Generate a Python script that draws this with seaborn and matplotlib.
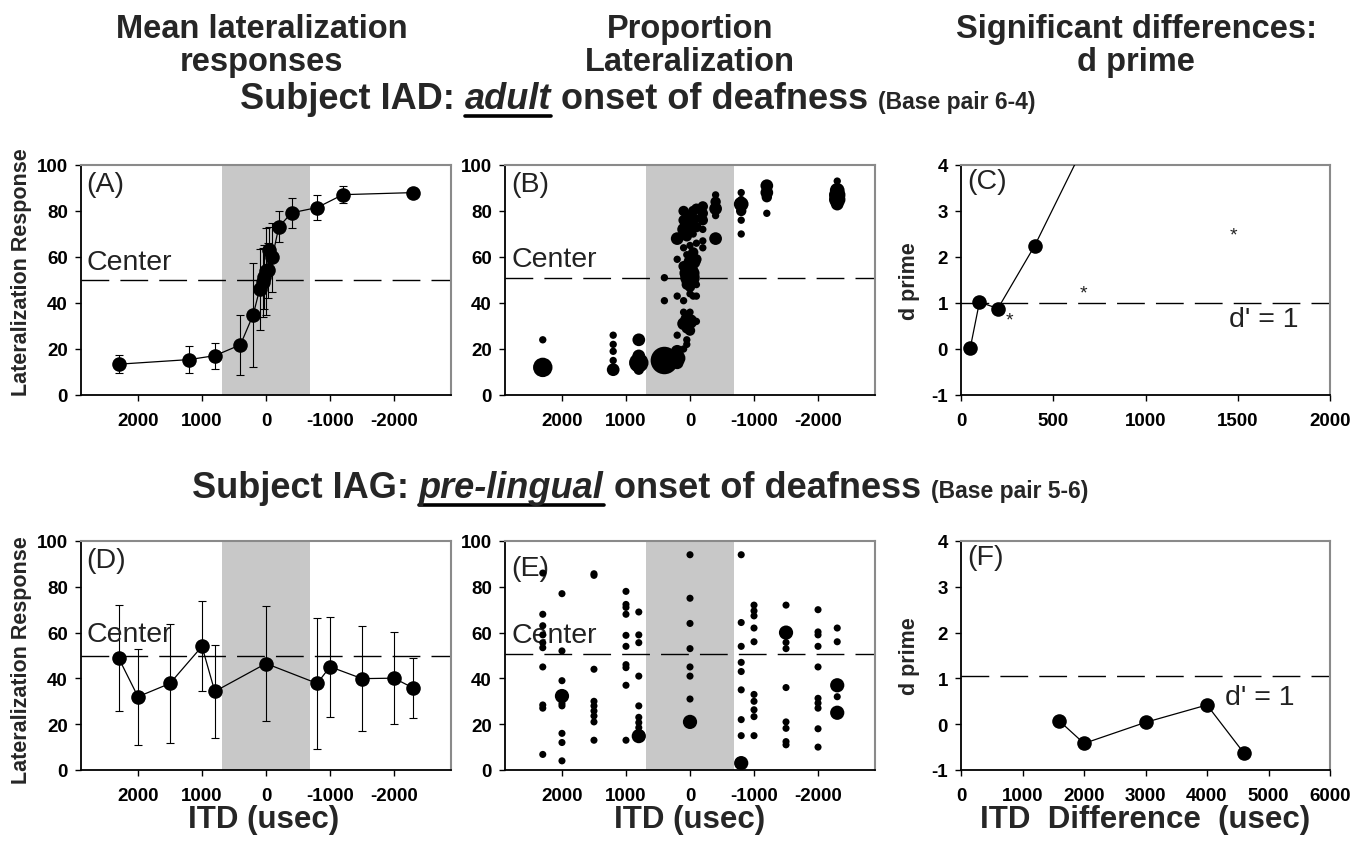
import numpy as np
import pandas as pd
import seaborn as sns
import matplotlib
matplotlib.use("Agg")
import matplotlib.pyplot as plt
from matplotlib.lines import Line2D

sns.set_theme(style="ticks")
plt.rcParams["font.family"] = ["Liberation Sans", "DejaVu Sans"]
plt.rcParams["axes.unicode_minus"] = False

# ---------------- data ----------------
# Panel A: mean lateralization, subject IAD
A_itd = [2300, 1200, 800, 400, 200, 100, 50, 25, 0, -25, -50, -100, -200, -400, -800, -1200, -2300]
A_mean = [13.4, 15.4, 17.1, 21.8, 34.9, 45.9, 49.1, 51.3, 53.8, 54.2, 62.9, 60.0, 73.1, 79.2, 81.5, 87.1, 88.0]
A_sd = [4.0, 5.8, 5.7, 13.2, 22.7, 17.5, 15.0, 14.0, 19.0, 12.0, 10.0, 15.0, 6.7, 6.4, 5.4, 3.6, 1.0]

# Panel B: proportion of responses (bubble size = count), subject IAD
B_itd = [2300, 2300,
         1200, 1200, 1200, 1200, 1200,
         800, 800, 800, 800,
         400, 400, 400, 400, 400,
         200, 200, 200, 200, 200, 200, 200,
         100, 100, 100, 100, 100, 100, 100, 100, 100,
         50, 50, 50, 50, 50, 50, 50, 50, 50, 50,
         0, 0, 0, 0, 0, 0, 0, 0, 0, 0, 0,
         -50, -50, -50, -50, -50, -50, -50, -50,
         -100, -100, -100, -100, -100, -100, -100, -100,
         -200, -200, -200, -200, -200, -200,
         -400, -400, -400, -400, -400,
         -800, -800, -800, -800, -800, -800,
         -1200, -1200, -1200, -1200,
         -2300, -2300, -2300, -2300, -2300]
B_resp = [24, 12,
          26, 22, 19, 15, 11,
          24, 17, 14, 11,
          51, 41, 15, 13, 18,
          68, 59, 43, 26, 16, 19, 14,
          80, 76, 72, 64, 56, 41, 36, 31, 20,
          78, 74, 69, 61, 53, 48, 33, 29, 24, 22,
          75, 71, 65, 58, 54, 51, 47, 44, 32, 28, 36,
          80, 76, 70, 62, 58, 53, 49, 43,
          81, 77, 73, 66, 59, 48, 43, 32,
          82, 79, 76, 72, 67, 64,
          87, 84, 81, 78, 68,
          88, 85, 83, 80, 76, 70,
          91, 88, 86, 79,
          93, 89, 87, 85, 83]
B_n = [1, 7,
       1, 1, 1, 1, 3,
       3, 3, 7, 2,
       1, 1, 14, 5, 3,
       3, 1, 1, 1, 5, 3, 3,
       2, 2, 3, 1, 2, 1, 1, 3, 1,
       2, 3, 2, 1, 4, 2, 3, 2, 1, 1,
       3, 2, 1, 3, 5, 7, 2, 1, 4, 2, 1,
       2, 2, 1, 2, 4, 3, 2, 1,
       2, 1, 2, 1, 2, 1, 1, 1,
       2, 2, 2, 1, 1, 1,
       1, 2, 3, 1, 3,
       1, 1, 4, 2, 1, 1,
       3, 3, 2, 1,
       1, 4, 5, 5, 3]

# Panel C: d prime, subject IAD
C_diff = [50, 100, 200, 400, 800]
C_dprime = [0.02, 1.02, 0.88, 2.25, 5.5]
C_star_x = [265, 663, 1476]
C_star_y = [0.63, 1.22, 2.47]

# Panel D: mean lateralization, subject IAG
D_itd = [2300, 2000, 1500, 1000, 800, 0, -800, -1000, -1500, -2000, -2300]
D_mean = [48.8, 32.0, 37.8, 54.0, 34.3, 46.5, 37.8, 45.1, 39.9, 40.1, 35.8]
D_sd = [23.1, 21.0, 26.1, 19.7, 20.2, 24.9, 28.6, 21.8, 22.9, 20.2, 13.3]

# Panel E: proportion of responses, subject IAG
E_itd = [2300, 2300, 2300, 2300, 2300, 2300, 2300, 2300, 2300, 2300,
         2000, 2000, 2000, 2000, 2000, 2000, 2000, 2000, 2000,
         1500, 1500, 1500, 1500, 1500, 1500, 1500, 1500, 1500,
         1000, 1000, 1000, 1000, 1000, 1000, 1000, 1000, 1000, 1000,
         800, 800, 800, 800, 800, 800, 800, 800, 800,
         0, 0, 0, 0, 0, 0, 0, 0,
         -800, -800, -800, -800, -800, -800, -800, -800, -800,
         -1000, -1000, -1000, -1000, -1000, -1000, -1000, -1000, -1000, -1000,
         -1500, -1500, -1500, -1500, -1500, -1500, -1500, -1500, -1500,
         -2000, -2000, -2000, -2000, -2000, -2000, -2000, -2000, -2000, -2000,
         -2300, -2300, -2300, -2300, -2300]
E_resp = [86, 68, 63, 59, 55.6, 53.4, 45, 28.4, 27, 6.8,
          77, 52, 39, 32.3, 29, 28, 16, 12, 4,
          85.7, 85, 44, 30, 28, 25.8, 23.6, 21, 13,
          78, 72.3, 71, 68, 58.8, 54, 46, 44.7, 37, 13,
          69, 59, 55.6, 41, 28, 23, 20.7, 18.5, 14.8,
          94, 75, 64, 53, 45, 41, 31, 21,
          94, 64.4, 54, 47, 43, 35, 22, 15, 3,
          72, 69.5, 67.3, 62, 56, 33, 30, 26.3, 23.3, 15,
          72, 60, 55.7, 53, 36, 21, 18.2, 12.4, 11,
          70, 60.3, 59, 54, 45, 31.3, 29.2, 27, 18, 10,
          62, 56, 37, 32, 25]
E_n = [1, 1, 1, 1, 1, 1, 1, 1, 1, 1,
       1, 1, 1, 4, 1, 1, 1, 1, 1,
       1, 1, 1, 1, 1, 1, 1, 1, 1,
       1, 1, 1, 1, 1, 1, 1, 1, 1, 1,
       1, 1, 1, 1, 1, 1, 1, 1, 4,
       1, 1, 1, 1, 1, 1, 1, 4,
       1, 1, 1, 1, 1, 1, 1, 1, 4,
       1, 1, 1, 1, 1, 1, 1, 1, 1, 1,
       1, 4, 1, 1, 1, 1, 1, 1, 1,
       1, 1, 1, 1, 1, 1, 1, 1, 1, 1,
       1, 1, 4, 1, 4]

# Panel F: d prime, subject IAG
F_diff = [1600, 2000, 3000, 4000, 4600]
F_dprime = [0.07, -0.42, 0.04, 0.42, -0.63]

itd_ticks = [2000, 1000, 0, -1000, -2000]
lat_ticks = [0, 20, 40, 60, 80, 100]
dp_ticks = [-1, 0, 1, 2, 3, 4]
C_ticks = [0, 500, 1000, 1500, 2000]
F_ticks = [0, 1000, 2000, 3000, 4000, 5000, 6000]

# ---------------- figure ----------------
W, H = 1362, 854
fig = plt.figure(figsize=(W / 100, H / 100), dpi=100)
fig.patch.set_facecolor("white")


def add_ax(x0, x1, y0, y1):
    return fig.add_axes([x0 / W, 1 - y1 / H, (x1 - x0) / W, (y1 - y0) / H])


axA = add_ax(81, 451, 166, 396)
axB = add_ax(505, 875, 166, 396)
axC = add_ax(961, 1330, 166, 396)
axD = add_ax(81, 451, 542, 771)
axE = add_ax(505, 875, 542, 771)
axF = add_ax(961, 1330, 542, 771)

TICK_FS = 13.5
LBL_FS = 20.5


def style(ax, xticks, yticks):
    ax.set_facecolor("white")
    ax.set_xticks(xticks)
    ax.set_yticks(yticks)
    for s in ["left", "bottom"]:
        ax.spines[s].set_color("black")
        ax.spines[s].set_linewidth(1.3)
    for s in ["top", "right"]:
        ax.spines[s].set_visible(True)
        ax.spines[s].set_color("#8a8a8a")
        ax.spines[s].set_linewidth(1.5)
    ax.tick_params(direction="out", length=4.5, width=1.0, labelsize=TICK_FS, pad=5, colors="black")
    ax.tick_params(axis="x", pad=8)
    for lab in ax.get_xticklabels() + ax.get_yticklabels():
        lab.set_fontweight("bold")
    ax.set_xlabel("")
    ax.set_ylabel("")
    ax.grid(False)


def mean_panel(ax, itd, mean, sd, center_y, label, center_text_y):
    ax.axvspan(680, -680, color="#c8c8c8", lw=0, zorder=0)
    ax.axhline(center_y, color="black", lw=1.0, dashes=(20, 8), zorder=1)
    ax.errorbar(itd, mean, yerr=sd, fmt="none", ecolor="black", elinewidth=0.8,
                capsize=3.2, capthick=0.8, zorder=2)
    sns.lineplot(x=itd, y=mean, ax=ax, sort=False, estimator=None, color="black", lw=0.9,
                 marker="o", markersize=10.5, markeredgewidth=0, markerfacecolor="black", zorder=3)
    ax.set_xlim(2890, -2890)
    ax.set_ylim(0, 100)
    style(ax, itd_ticks, lat_ticks)
    ax.text(0.014, center_text_y, "Center", transform=ax.get_yaxis_transform(),
            ha="left", va="baseline", fontsize=LBL_FS, color="#222222")
    ax.text(0.014, 0.975, label, transform=ax.transAxes, ha="left", va="top",
            fontsize=LBL_FS, color="#222222")


def bubble_panel(ax, itd, resp, n, center_y, label, center_text_y, sizes, norm, label_y=0.975):
    ax.axvspan(680, -680, color="#c8c8c8", lw=0, zorder=0)
    ax.axhline(center_y, color="black", lw=1.0, dashes=(20, 8), zorder=1)
    df = pd.DataFrame({"itd": itd, "resp": resp, "n": n})
    sns.scatterplot(data=df, x="itd", y="resp", size="n", sizes=sizes, size_norm=norm,
                    color="black", edgecolor="none", linewidth=0, legend=False, ax=ax, zorder=3)
    ax.set_xlim(2890, -2890)
    ax.set_ylim(0, 100)
    style(ax, itd_ticks, lat_ticks)
    ax.text(0.018, center_text_y, "Center", transform=ax.get_yaxis_transform(),
            ha="left", va="baseline", fontsize=LBL_FS, color="#222222", zorder=2)
    ax.text(0.016, label_y, label, transform=ax.transAxes, ha="left", va="top",
            fontsize=LBL_FS, color="#222222", zorder=2)


def dprime_panel(ax, xs, ys, ref_y, label, xlim, xticks, dtext_x, dtext_y):
    ax.axhline(ref_y, color="black", lw=1.0, dashes=(20, 8), zorder=1)
    sns.lineplot(x=xs, y=ys, ax=ax, sort=False, estimator=None, color="black", lw=0.9,
                 marker="o", markersize=10.5, markeredgewidth=0, markerfacecolor="black", zorder=3)
    ax.set_xlim(*xlim)
    ax.set_ylim(-1, 4)
    style(ax, xticks, dp_ticks)
    ax.text(dtext_x, dtext_y, "d' = 1", ha="left", va="baseline", fontsize=LBL_FS, color="#222222")
    ax.text(0.016, 0.985, label, transform=ax.transAxes, ha="left", va="top",
            fontsize=LBL_FS, color="#222222")


mean_panel(axA, A_itd, A_mean, A_sd, 49.8, "(A)", 55.0)
bubble_panel(axB, B_itd, B_resp, B_n, 50.8, "(B)", 56.3, (28, 420), (1, 15))
dprime_panel(axC, C_diff, C_dprime, 1.0, "(C)", (0, 2000), C_ticks, 1450, 0.49)
for sx, sy in zip(C_star_x, C_star_y):
    axC.text(sx, sy, "*", ha="center", va="center", fontsize=14, color="#222222")

mean_panel(axD, D_itd, D_mean, D_sd, 49.6, "(D)", 56.4)
bubble_panel(axE, E_itd, E_resp, E_n, 50.5, "(E)", 55.8, (26, 105), (1, 4), label_y=0.94)
dprime_panel(axF, F_diff, F_dprime, 1.05, "(F)", (0, 6000), F_ticks, 4300, 0.44)

# ---------------- text ----------------
TITLE_FS = 23.5
fig.text(262 / W, 1 - 46 / H, "Mean lateralization\nresponses", ha="center", va="center",
         fontsize=TITLE_FS, fontweight="bold", linespacing=1.1)
fig.text(690 / W, 1 - 46 / H, "Proportion\nLateralization", ha="center", va="center",
         fontsize=TITLE_FS, fontweight="bold", linespacing=1.1)
fig.text(1136 / W, 1 - 46 / H, "Significant differences:\nd prime", ha="center", va="center",
         fontsize=TITLE_FS, fontweight="bold", linespacing=1.1)

for yc in (272, 660):
    fig.text(22 / W, 1 - yc / H, "Lateralization Response", rotation=90, ha="center",
             va="center", fontsize=15.5, fontweight="bold")
for yc in (281, 656):
    fig.text(910 / W, 1 - yc / H, "d prime", rotation=90, ha="center", va="center",
             fontsize=15.5, fontweight="bold")

for xc, s in ((264, "ITD (usec)"), (690, "ITD (usec)"), (1145, "ITD  Difference  (usec)")):
    fig.text(xc / W, 1 - 820 / H, s, ha="center", va="center", fontsize=22.5, fontweight="bold")

renderer = fig.canvas.get_renderer()


def rich_line(x_start, y_base, pieces):
    x = x_start
    for txt, kw, ul in pieces:
        t = fig.text(x / W, 1 - y_base / H, txt, ha="left", va="baseline", **kw)
        bb = t.get_window_extent(renderer)
        if ul:
            yl = y_base + 8
            fig.add_artist(Line2D([bb.x0 / W, bb.x1 / W], [1 - yl / H, 1 - yl / H],
                                  transform=fig.transFigure, color="black", lw=2.6))
        x = bb.x1


SUB_FS = 26
bold = dict(fontsize=SUB_FS, fontweight="bold")
boldit = dict(fontsize=SUB_FS, fontweight="bold", style="italic")
small = dict(fontsize=16.5, fontweight="bold")
rich_line(240, 109, [("Subject IAD: ", bold, False), ("adult", boldit, True),
                     (" onset of deafness ", bold, False), ("(Base pair 6-4)", small, False)])
rich_line(192, 498, [("Subject IAG: ", bold, False), ("pre-lingual", boldit, True),
                     (" onset of deafness ", bold, False), ("(Base pair 5-6)", small, False)])

fig.savefig("out.png", dpi=100, facecolor="white")
